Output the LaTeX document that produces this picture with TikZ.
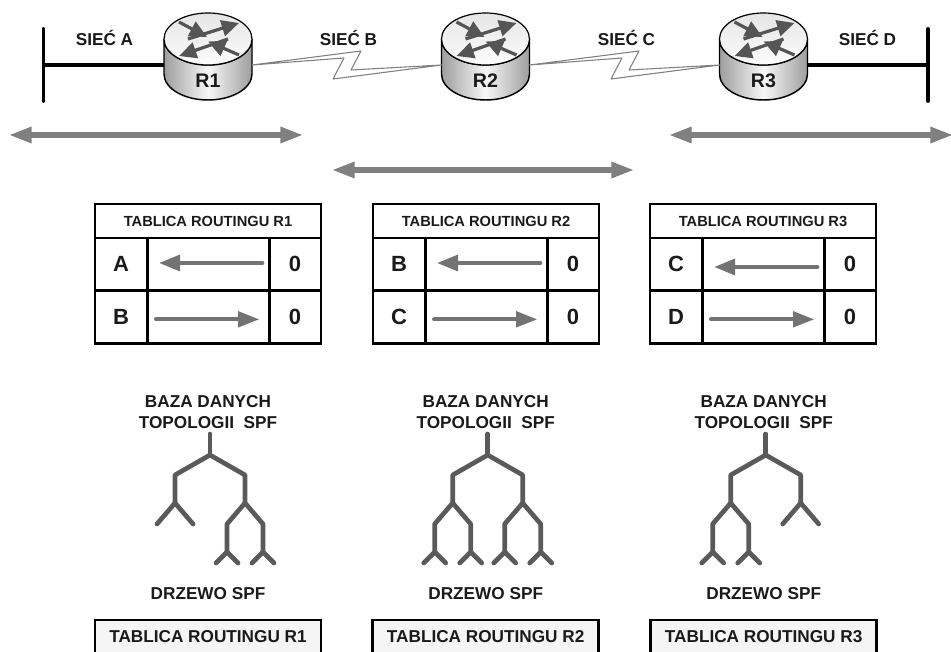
\documentclass[tikz,border=0pt]{standalone}
\usepackage{fontspec}
\setmainfont{Liberation Sans}
\usetikzlibrary{arrows.meta}

\definecolor{inkgray}{RGB}{26,26,26}
\definecolor{arrowgray}{RGB}{128,128,128}
\definecolor{treegray}{RGB}{90,90,90}
\definecolor{iconarrow}{RGB}{85,85,85}

\tikzset{every picture/.style={line width=0.75pt}}
\tikzset{
	txt/.style={font=\bfseries\fontsize{12.9}{15.5}\selectfont,text=inkgray,align=center,inner sep=0pt},
	netline/.style={line width=2.9pt,black},
	routerport/.style={inner sep=0pt,outer sep=0pt,minimum width=66pt,minimum height=52pt},
	routername/.style={font=\bfseries\fontsize{14.7}{16}\selectfont,text=inkgray,inner sep=0pt},
	serial/.style={draw=black!50,fill=white,line width=0.8pt,line join=round},
	span/.style={draw=arrowgray,line width=3.8pt,{Triangle[length=17pt,width=11.5pt]}-{Triangle[length=17pt,width=11.5pt]}},
	cell/.style={draw=black,line width=1.9pt,inner sep=0pt,outer sep=0pt,anchor=north west,text=inkgray},
	headcell/.style={cell,minimum width=169.5pt,minimum height=25.5pt,font=\bfseries\fontsize{11}{12}\selectfont},
	sidecell/.style={cell,minimum height=39.5pt,font=\bfseries\fontsize{16.5}{18}\selectfont},
	rowarrow/.style={draw=arrowgray!90!black,line cap=round,shorten <=6pt,shorten >=8pt,-{Triangle[length=16pt,width=11.5pt]}},
	treeline/.style={draw=treegray,line width=3.5pt,line join=round,line cap=round},
	iconline/.style={draw=iconarrow,line width=2.4pt,-{Triangle[length=13pt,width=12pt]}},
	resultbox/.style={draw=black,line width=1.9pt,fill=black!4,minimum width=169.5pt,minimum height=25.5pt,inner sep=0pt,outer sep=0pt,font=\bfseries\fontsize{12.9}{15}\selectfont,text=inkgray},
}
% two leaves under a point
\newcommand{\leafpair}[3]{\draw[treeline] (#1-#3,#2+21) -- (#1,#2) -- (#1+#3,#2+21);}
% deeper branch under a point
\newcommand{\deepfork}[2]{
	\draw[treeline] (#1-18,#2+49) -- (#1-18,#2+21) -- (#1,#2) -- (#1+18,#2+21) -- (#1+18,#2+49);
	\draw[treeline] (#1-29,#2+60) -- (#1-18,#2+49) -- (#1-7,#2+60);
	\draw[treeline] (#1+7,#2+60) -- (#1+18,#2+49) -- (#1+29,#2+60);
}

\begin{document}
\begin{tikzpicture}[x=0.75pt,y=0.75pt,yscale=-1,xscale=1]
	\useasboundingbox (0,0) rectangle (951,652);

	% Routers
	\foreach \name/\cx in {R1/208,R2/485.5,R3/763.5}{
		\draw [line width=1.1pt,left color=black!38,right color=black!38,middle color=black!3]
			(\cx-44,39) -- (\cx-44,74) arc (180:0:44 and 26) -- (\cx+44,39) arc (0:180:44 and 26) -- cycle;
		\draw [line width=0.9pt,top color=black!10,bottom color=black!1] (\cx,39) circle [x radius=44, y radius=26];
		\draw [iconline] (\cx-29,-17+39) -- (\cx-1,-2+39);
		\draw [iconline] (\cx-20,39) -- (\cx+31,-16+39);
		\draw [iconline] (\cx+20,39) -- (\cx-29,17+39);
		\draw [iconline] (\cx+31,16+39) -- (\cx,2.5+39);
		\node [routerport] (\name) at (\cx,65) {};
		\node [routername] (\name name) at (\cx,81) {\name};
	}

	% Networks
	\coordinate (busA top) at (43.5,29);
	\coordinate (busA bot) at (43.5,101);
	\coordinate (busA mid) at (43.5,65);
	\coordinate (busD top) at (928,29);
	\coordinate (busD bot) at (928,101);
	\coordinate (busD mid) at (928,65);
	\draw [netline,line cap=round] (busA top) -- (busA bot);
	\draw [netline,line cap=round] (busD top) -- (busD bot);
	\draw [netline] (busA mid) -- (R1.west);
	\draw [netline] (R3.east) -- (busD mid);
	\draw [serial] (R1.east) -- (361,51) -- (351,70) -- (R2.west) -- (333,79) -- (344,58) -- cycle;
	\draw [serial] (R2.east) -- (639,51) -- (629,70) -- (R3.west) -- (611,79) -- (622,58) -- cycle;

	\node [txt] (netA) at (104.5,38) {SIEĆ A};
	\node [txt] (netB) at (348.5,38) {SIEĆ B};
	\node [txt] (netC) at (626.5,38) {SIEĆ C};
	\node [txt] (netD) at (867.5,38) {SIEĆ D};

	% Update ranges
	\coordinate (spanA) at (9,135);
	\coordinate (spanB) at (303,135);
	\coordinate (spanC) at (332,170);
	\coordinate (spanD) at (634,170);
	\coordinate (spanE) at (669,135);
	\coordinate (spanF) at (953,135);
	\draw [span] (spanA) -- (spanB);
	\draw [span] (spanC) -- (spanD);
	\draw [span] (spanE) -- (spanF);

	% Routing tables
	\foreach \name/\lx/\rowa/\rowb/\dy in {R1/95/A/B/-1,R2/373/B/C/-1,R3/650/C/D/2}{
		\node [headcell] (\name head) at (\lx,204) {TABLICA ROUTINGU \name};
		\node [sidecell,minimum width=39pt] (\name a) at (\lx,238) {\rowa};
		\node [sidecell,minimum width=91.5pt] (\name aa) at (\lx+53,238) {};
		\node [sidecell,minimum width=39pt] (\name ab) at (\lx+174,238) {0};
		\node [sidecell,minimum width=39pt] (\name b) at (\lx,291) {\rowb};
		\node [sidecell,minimum width=91.5pt] (\name bb) at (\lx+53,291) {};
		\node [sidecell,minimum width=39pt] (\name bc) at (\lx+174,291) {0};
		\draw [rowarrow,line width=3.7pt] ([yshift=\dy pt]\name aa.east) -- ([yshift=\dy pt]\name aa.west);
		\draw [rowarrow,line width=3pt] ([yshift=1.5pt]\name bb.west) -- ([yshift=1.5pt]\name bb.east);
	}

	% Trees
	\foreach \name/\cx in {R1/210,R2/487.7,R3/765.7}{
		\node [txt] (\name base) at (\cx-2,412) {BAZA DANYCH\\TOPOLOGII\ \ SPF};
		\node [txt] (\name tree) at (\cx-2,594) {DRZEWO SPF};
		\node [resultbox] (\name result) at (\cx-2,637) {TABLICA ROUTINGU \name};
		\draw [treeline] (\cx,434) -- (\cx,455);
		\draw [treeline] (\cx-35,503) -- (\cx-35,475) -- (\cx,455) -- (\cx+35,475) -- (\cx+35,503);
	}
	\leafpair{175}{503}{18}
	\deepfork{245}{503}
	\deepfork{452.7}{503}
	\deepfork{522.7}{503}
	\deepfork{730.7}{503}
	\leafpair{800.7}{503}{18}
\end{tikzpicture}
\end{document}
